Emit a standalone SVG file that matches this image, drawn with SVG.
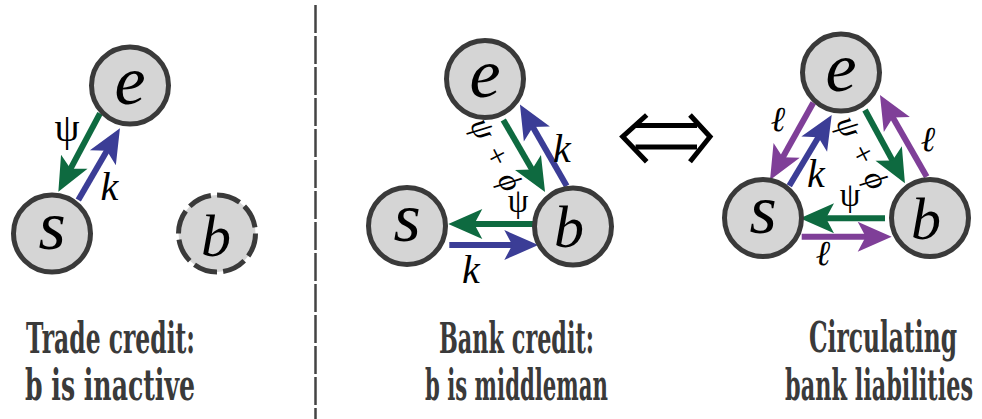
<svg xmlns="http://www.w3.org/2000/svg" width="982" height="419" viewBox="0 0 982 419">
<style>
.node{fill:#d5d5d5;stroke:#3a3a3a;stroke-width:5}
.dash{stroke-dasharray:24 6.2}
.nl{font-family:"Liberation Serif",serif;font-style:italic;fill:#000;text-anchor:middle}
.big{font-size:70px}
.bb{font-size:60px}
.g{stroke:#0e6a40;stroke-width:6;fill:none}
.bl{stroke:#3b3d96;stroke-width:6;fill:none}
.p{stroke:#7f3f98;stroke-width:6;fill:none}
.lab{font-family:"Liberation Serif",serif;fill:#000;text-anchor:middle}
.it{font-style:italic}
.cap{font-family:"DejaVu Serif",serif;font-weight:bold;font-size:42px;fill:#3a3a3a}
</style>
<defs>
<marker id="ag" markerUnits="userSpaceOnUse" markerWidth="36" markerHeight="32" refX="13" refY="15" orient="auto" overflow="visible"><path d="M0,0 L34,15 L0,30 L8,15 Z" fill="#0e6a40"/></marker>
<marker id="ab" markerUnits="userSpaceOnUse" markerWidth="36" markerHeight="32" refX="13" refY="15" orient="auto" overflow="visible"><path d="M0,0 L34,15 L0,30 L8,15 Z" fill="#3b3d96"/></marker>
<marker id="ap" markerUnits="userSpaceOnUse" markerWidth="36" markerHeight="32" refX="13" refY="15" orient="auto" overflow="visible"><path d="M0,0 L34,15 L0,30 L8,15 Z" fill="#7f3f98"/></marker>
</defs>
<rect width="982" height="419" fill="#fff"/>
<line x1="315.5" y1="5" x2="315.5" y2="419" stroke="#444" stroke-width="2.5" stroke-dasharray="28 3"/>

<g id="connectors">
<line class="g" x1="100" y1="113.3" x2="68.2" y2="173.2" marker-end="url(#ag)"/>
<line class="bl" x1="78.3" y1="200" x2="109.4" y2="146.5" marker-end="url(#ab)"/>
<line class="g" x1="503.3" y1="120" x2="534.5" y2="173.8" marker-end="url(#ag)"/>
<line class="bl" x1="566.7" y1="186" x2="530.4" y2="122.7" marker-end="url(#ab)"/>
<line class="g" x1="533.3" y1="224" x2="469.3" y2="224" marker-end="url(#ag)"/>
<line class="bl" x1="449.3" y1="245" x2="517.3" y2="245" marker-end="url(#ab)"/>
<line class="p" x1="813.3" y1="102.7" x2="780.3" y2="161.7" marker-end="url(#ap)"/>
<line class="bl" x1="789.3" y1="185.7" x2="820.9" y2="133" marker-end="url(#ab)"/>
<line class="g" x1="865" y1="110" x2="894.9" y2="164.9" marker-end="url(#ag)"/>
<line class="p" x1="926.7" y1="176.7" x2="890.4" y2="113.2" marker-end="url(#ap)"/>
<line class="g" x1="885" y1="218.3" x2="821" y2="218.3" marker-end="url(#ag)"/>
<line class="p" x1="801.7" y1="236.7" x2="870.7" y2="236.7" marker-end="url(#ap)"/>
</g>

<g id="edge-labels">
<text class="lab" x="67" y="141" font-size="40">ψ</text>
<text class="lab it" x="109.5" y="200" font-size="40">k</text>
<text class="lab it" x="562" y="162" font-size="40">k</text>
<text class="lab" x="518" y="212" font-size="33">ψ</text>
<text class="lab it" x="471" y="283" font-size="40">k</text>
<text class="lab it" transform="translate(496,155) rotate(63)" x="0" y="10" font-size="32" letter-spacing="1">ψ + ϕ</text>
<text class="lab it" x="778" y="131" font-size="35">ℓ</text>
<text class="lab it" x="816" y="187" font-size="40">k</text>
<text class="lab it" x="928" y="151" font-size="35">ℓ</text>
<text class="lab it" transform="translate(862,153) rotate(63)" x="0" y="10" font-size="32" letter-spacing="1">ψ + ϕ</text>
<text class="lab" x="850" y="206" font-size="33">ψ</text>
<text class="lab it" x="823" y="265" font-size="35">ℓ</text>
</g>

<g id="left-e"><circle class="node" cx="130" cy="85.5" r="38.5"/><text class="nl big" x="130" y="103.5">e</text></g>
<g id="left-s"><circle class="node" cx="52" cy="233.5" r="38.5"/><text class="nl big" x="52" y="248.5">s</text></g>
<g id="left-b"><circle class="node dash" cx="217" cy="233.5" r="38.5"/><text class="nl bb" x="216" y="256">b</text></g>

<g id="mid-e"><circle class="node" cx="485" cy="79" r="38.5"/><text class="nl big" x="485" y="97">e</text></g>
<g id="mid-s"><circle class="node" cx="407" cy="226" r="38.5"/><text class="nl big" x="407" y="241">s</text></g>
<g id="mid-b"><circle class="node" cx="573" cy="226.5" r="38.5"/><text class="nl bb" x="569" y="247">b</text></g>

<g id="right-e"><circle class="node" cx="841" cy="72.5" r="38.5"/><text class="nl big" x="841" y="90.5">e</text></g>
<g id="right-s"><circle class="node" cx="763" cy="218" r="38.5"/><text class="nl big" x="763" y="233">s</text></g>
<g id="right-b"><circle class="node" cx="930" cy="218" r="38.5"/><text class="nl bb" x="926" y="239">b</text></g>

<g id="equiv" fill="none" stroke="#000" stroke-width="5">
<path d="M646.7,115 L622.7,136.7 L646.7,161.7"/>
<path d="M690,115 L710,136.7 L690,161.7"/>
<line x1="635.6" y1="125.5" x2="697" y2="125.5"/>
<line x1="635.6" y1="147" x2="697" y2="147"/>
</g>

<g id="captions">
<text class="cap" transform="translate(26,353) scale(0.55,1)" x="0" y="0" textLength="307.3" lengthAdjust="spacingAndGlyphs">Trade credit:</text>
<text class="cap" transform="translate(25,400) scale(0.55,1)" x="0" y="0" textLength="309.1" lengthAdjust="spacingAndGlyphs">b is inactive</text>
<text class="cap" transform="translate(439,353) scale(0.55,1)" x="0" y="0" textLength="281.8" lengthAdjust="spacingAndGlyphs">Bank credit:</text>
<text class="cap" transform="translate(425,400) scale(0.55,1)" x="0" y="0" textLength="332.7" lengthAdjust="spacingAndGlyphs">b is middleman</text>
<text class="cap" transform="translate(809,352) scale(0.55,1)" x="0" y="0" textLength="269.1" lengthAdjust="spacingAndGlyphs">Circulating</text>
<text class="cap" transform="translate(785,400) scale(0.55,1)" x="0" y="0" textLength="341.8" lengthAdjust="spacingAndGlyphs">bank liabilities</text>
</g>
</svg>
